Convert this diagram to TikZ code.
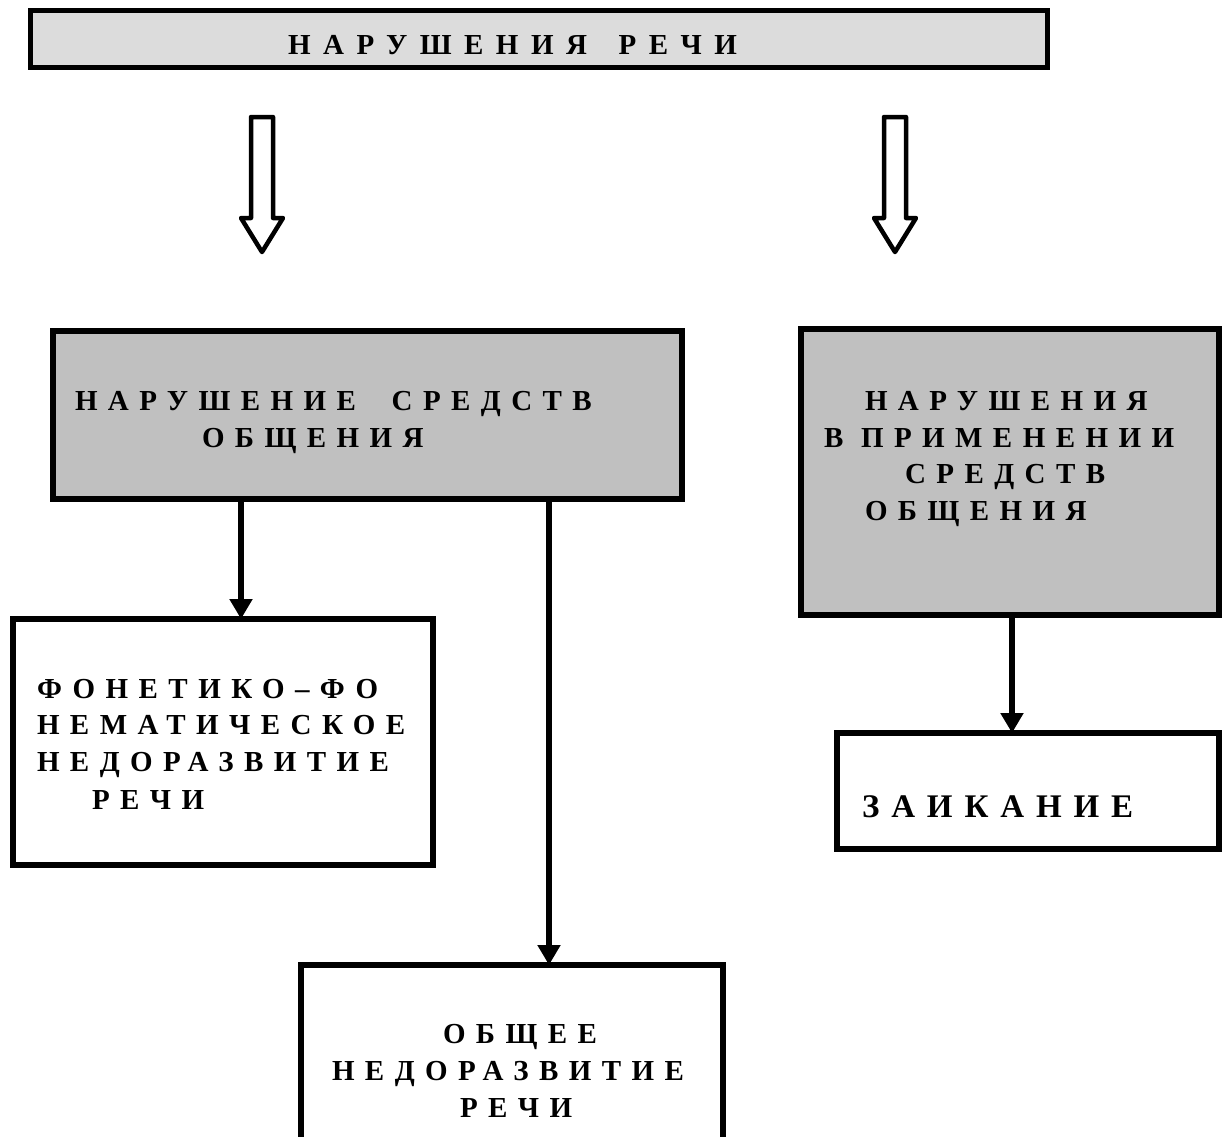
\documentclass[tikz,border=0pt]{standalone}
\usepackage{fontspec}
\setmainfont{Liberation Serif}
\newfontfamily\boxfont{Liberation Serif}[LetterSpace=36]
\newfontfamily\titlefont{Liberation Serif}[LetterSpace=43]
\usetikzlibrary{arrows.meta}
\definecolor{lightg}{HTML}{DCDCDC}
\definecolor{midg}{HTML}{C0C0C0}
\tikzset{
  box/.style={draw=black, line width=6pt, rectangle, inner sep=0pt, outer sep=0pt},
  graybox/.style={box, fill=midg},
  whitebox/.style={box, fill=white},
  lbl/.style={anchor=base west, inner sep=0pt, outer sep=0pt, font=\boxfont\bfseries\fontsize{29}{29}\selectfont},
  conn/.style={line width=5.5pt, -{Triangle[width=22pt,length=20pt]}},
  hollow/.style={draw=black, line width=4.5pt, fill=white, line join=round}
}
\begin{document}
\begin{tikzpicture}[x=1pt,y=-1pt]
\useasboundingbox (0,0) rectangle (1227,1136);
% title
\node[box, line width=5pt, fill=lightg, minimum width=1017pt, minimum height=57pt] (top) at (539,39) {};
\node[anchor=base west, inner sep=0pt, font=\titlefont\bfseries\fontsize{29}{29}\selectfont] (toptext) at (288,54) {НАРУШЕНИЯ\hspace{12pt} РЕЧИ};
% hollow arrows
\coordinate (h1) at (262,117);
\coordinate (h2) at (895,117);
\foreach \h in {h1,h2}{
  \draw[hollow, shift={(\h)}] (-11,0) -- (11,0) -- (11,101) -- (21,101) -- (0,135) -- (-21,101) -- (-11,101) -- cycle;
}
% boxes
\node[graybox, minimum width=629pt, minimum height=168pt] (A) at (367.5,415) {};
\node[graybox, minimum width=418pt, minimum height=286pt] (B) at (1010,472) {};
\node[whitebox, minimum width=420pt, minimum height=246pt] (C) at (223,742) {};
\node[whitebox, minimum width=422pt, minimum height=190pt] (D) at (512,1060) {};
\node[whitebox, minimum width=382pt, minimum height=116pt] (E) at (1028,791) {};
% texts
\node[lbl] (a1) at (75,410) {НАРУШЕНИЕ\hspace{18pt} СРЕДСТВ};
\node[lbl] (a2) at (202,447) {ОБЩЕНИЯ};
\node[lbl] (b1) at (865,410) {НАРУШЕНИЯ};
\node[lbl] (b2) at (824,447) {В ПРИМЕНЕНИИ};
\node[lbl] (b3) at (905,483) {СРЕДСТВ};
\node[lbl] (b4) at (865,520) {ОБЩЕНИЯ};
\node[lbl] (c1) at (37,698) {ФОНЕТИКО–ФО};
\node[lbl] (c2) at (37,734) {НЕМАТИЧЕСКОЕ};
\node[lbl] (c3) at (37,771) {НЕДОРАЗВИТИЕ};
\node[lbl] (c4) at (92,809) {РЕЧИ};
\node[lbl] (d1) at (443,1043) {ОБЩЕЕ};
\node[lbl] (d2) at (332,1080) {НЕДОРАЗВИТИЕ};
\node[lbl] (d3) at (460,1117) {РЕЧИ};
\node[lbl, font=\boxfont\bfseries\fontsize{33}{33}\selectfont] (e1) at (862,817) {ЗАИКАНИЕ};
% connectors
\coordinate (xc) at (241,0);
\coordinate (xd) at (549,0);
\coordinate (xe) at (1012,0);
\draw[conn] (A.south -| xc) -- (C.north -| xc);
\draw[conn] (A.south -| xd) -- (D.north -| xd);
\draw[conn] (B.south -| xe) -- (E.north -| xe);
\end{tikzpicture}
\end{document}
